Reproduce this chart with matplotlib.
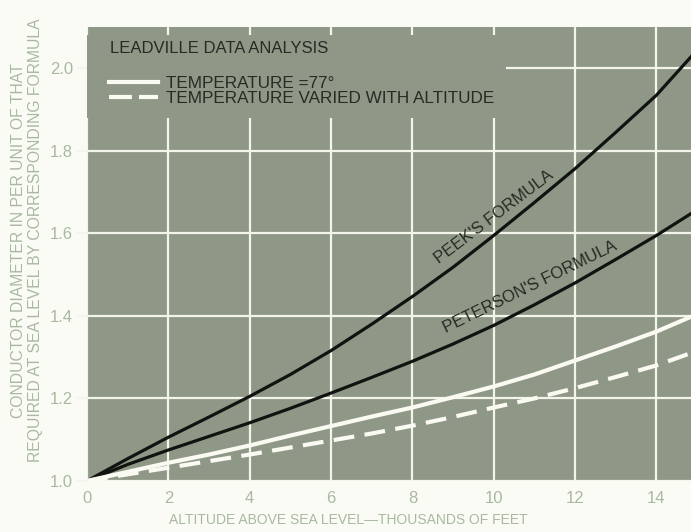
import matplotlib.pyplot as plt
from matplotlib.lines import Line2D
from matplotlib.patches import Rectangle

# altitude in thousands of feet
altitude = [0, 1, 2, 3, 4, 5, 6, 7, 8, 9, 10, 11, 12, 13, 14, 14.85]
peek = [1.0, 1.054, 1.106, 1.155, 1.205, 1.258, 1.316, 1.38, 1.447,
        1.518, 1.595, 1.675, 1.757, 1.845, 1.935, 2.028]
peterson = [1.0, 1.04, 1.075, 1.108, 1.141, 1.176, 1.213, 1.251, 1.29,
            1.332, 1.377, 1.427, 1.48, 1.537, 1.595, 1.648]
temp_77 = [1.0, 1.022, 1.044, 1.064, 1.086, 1.11, 1.133, 1.156, 1.178,
           1.203, 1.229, 1.258, 1.292, 1.326, 1.362, 1.398]
temp_varied = [1.0, 1.016, 1.032, 1.048, 1.064, 1.081, 1.098, 1.115, 1.134,
               1.155, 1.178, 1.2, 1.225, 1.252, 1.28, 1.31]

xticks = [0, 2, 4, 6, 8, 10, 12, 14]
yticks = [1.0, 1.2, 1.4, 1.6, 1.8, 2.0]

bg = '#fbfbf6'
panel = '#8f9887'
gridc = '#f3f4ea'
labelc = '#a9b9a1'
darktext = '#262b24'
white = '#fafaf2'

plt.rcParams['font.family'] = ['Liberation Sans', 'DejaVu Sans']

fig = plt.figure(figsize=(6.91, 5.32), dpi=100, facecolor=bg)
ax = fig.add_axes([0.126, 0.096, 0.874, 0.853])
ax.set_facecolor(panel)

ax.set_xlim(0, 14.85)
ax.set_ylim(1.0, 2.1)
ax.set_xticks(xticks)
ax.set_yticks(yticks)
ax.set_xticklabels([str(t) for t in xticks])
ax.set_yticklabels(['%.1f' % t for t in yticks])

ax.set_axisbelow(True)
ax.grid(True, color=gridc, linewidth=1.6)
for s in ax.spines.values():
    s.set_visible(False)

ax.tick_params(axis='x', length=0, pad=7, labelsize=12, labelcolor=labelc)
ax.tick_params(axis='y', length=7, width=1.6, color=gridc, pad=3,
               labelsize=12, labelcolor=labelc)

# legend area blanks out the grid
ax.add_patch(Rectangle((0, 1.879), 10.3, 0.201, facecolor=panel,
                       edgecolor='none', zorder=1))

ax.plot(altitude, peek, color='#111311', linewidth=2.3, zorder=3)
ax.plot(altitude, peterson, color='#111311', linewidth=2.3, zorder=3)
ax.plot(altitude, temp_77, color=white, linewidth=3, zorder=3)
ax.plot(altitude, temp_varied, color=white, linewidth=3,
        dashes=(5, 2.5), zorder=3)

ax.text(10.0, 1.64, "PEEK'S FORMULA", rotation=37, color=darktext,
        fontsize=12, ha='center', va='center', rotation_mode='anchor')
ax.text(10.88, 1.47, "PETERSON'S FORMULA", rotation=26, color=darktext,
        fontsize=12, ha='center', va='center', rotation_mode='anchor')

ax.text(0.038, 0.954, 'LEADVILLE DATA ANALYSIS', transform=ax.transAxes,
        color=darktext, fontsize=12, ha='left', va='center')
handles = [Line2D([], [], color=white, linewidth=3),
           Line2D([], [], color=white, linewidth=3, dashes=(5.5, 1.7))]
leg = ax.legend(handles, ['TEMPERATURE =77°', 'TEMPERATURE VARIED WITH ALTITUDE'],
                loc='upper left', bbox_to_anchor=(0.036, 0.893),
                frameon=False, fontsize=12.3, handlelength=2.9,
                handletextpad=0.45, labelspacing=0.0, borderpad=0,
                borderaxespad=0, labelcolor=darktext)

ax.set_xlabel('ALTITUDE ABOVE SEA LEVEL\u2014THOUSANDS OF FEET',
              color=labelc, fontsize=10)
ax.xaxis.set_label_coords(0.432, -0.07)
ax.set_ylabel('CONDUCTOR DIAMETER IN PER UNIT OF THAT\n'
              'REQUIRED AT SEA LEVEL BY CORRESPONDING FORMULA',
              color=labelc, fontsize=11.3, linespacing=1.15, va='center')
ax.yaxis.set_label_coords(-0.10, 0.53)

fig.savefig('out.png', dpi=100, facecolor=bg)
